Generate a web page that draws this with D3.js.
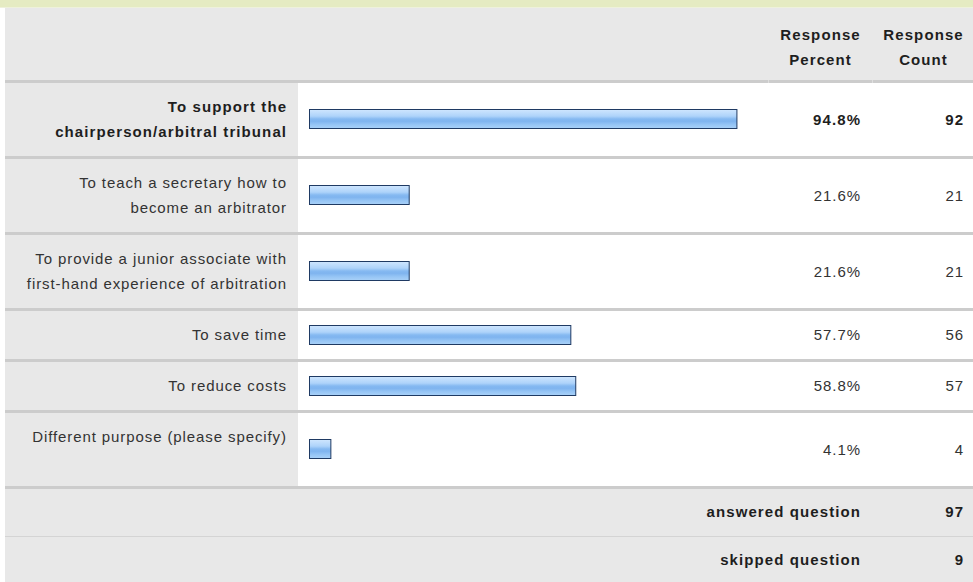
<!DOCTYPE html>
<html>
<head>
<meta charset="utf-8">
<script src="https://cdn.jsdelivr.net/npm/d3@7/dist/d3.min.js"></script>
<style>
  html, body { margin: 0; padding: 0; background: #ffffff; }
  svg { display: block; }
  text { font-family: "Liberation Sans", Arial, Helvetica, sans-serif; font-size: 15px; }
</style>
</head>
<body>
<svg id="chart" width="973" height="582"></svg>
<script>
// ---- data ----
const categories = [
  ["To support the", "chairperson/arbitral tribunal"],
  ["To teach a secretary how to", "become an arbitrator"],
  ["To provide a junior associate with", "first-hand experience of arbitration"],
  ["To save time"],
  ["To reduce costs"],
  ["Different purpose (please specify)", ""]
];
const percents = [94.8, 21.6, 21.6, 57.7, 58.8, 4.1];
const counts = [92, 21, 21, 56, 57, 4];
const highlighted = [true, false, false, false, false, false];
const headerLabels = [["Response", "Percent"], ["Response", "Count"]];
const summaryLabels = ["answered question", "skipped question"];
const summaryValues = [97, 9];

// ---- layout ----
const W = 973, H = 582;
const svg = d3.select("#chart");
const GREY = "#e8e8e8", SEP = "#cccccc", TXT = "#333333", BOLD = "#1e1e1e";
const LS = 0.9, LSB = 1.1;
const leftX = 5, labelColR = 298, labelRight = 286;
const pctRight = 860, cntRight = 963, pctCenter = 820, cntCenter = 923;
const barX = 309;
const headerTop = 8, headerBottom = 81;

// gradient
const defs = svg.append("defs");
const g = defs.append("linearGradient").attr("id", "barGrad").attr("x1", 0).attr("y1", 0).attr("x2", 0).attr("y2", 1);
[[0, "#cfe6fe"], [0.35, "#aed3fa"], [0.5, "#85b9f1"], [0.62, "#7fb4ef"], [0.8, "#96c5f5"], [1, "#a9d1f8"]]
  .forEach(([o, c]) => g.append("stop").attr("offset", o).attr("stop-color", c));

// top band
svg.append("rect").attr("x", 0).attr("y", 0).attr("width", W).attr("height", 7).attr("fill", "#e5ebc2");
svg.append("rect").attr("x", 0).attr("y", 7).attr("width", W).attr("height", 1).attr("fill", "#eef1dc");

// header row
svg.append("rect").attr("x", leftX).attr("y", headerTop).attr("width", W - leftX).attr("height", headerBottom - headerTop).attr("fill", GREY);
[pctCenter, cntCenter].forEach((cx, i) => {
  headerLabels[i].forEach((t, j) => {
    svg.append("text").attr("x", cx + LSB / 2).attr("y", 40 + j * 25)
      .attr("text-anchor", "middle").attr("font-weight", "bold")
      .attr("letter-spacing", LSB).attr("fill", BOLD).text(t);
  });
});

// rows
const rowH = categories.map(l => l.length === 2 ? 76 : 51);
const rowTop = [];
let acc = headerBottom;
rowH.forEach(h => { rowTop.push(acc); acc += h; });
const rowsBottom = acc;

const x = d3.scaleLinear().domain([0, 100]).range([0, 447.7]);

categories.forEach((lines, i) => {
  const top = rowTop[i], h = rowH[i], cy = top + h / 2;
  // label cell
  svg.append("rect").attr("x", leftX).attr("y", top).attr("width", labelColR - leftX).attr("height", h).attr("fill", GREY);
  const bold = highlighted[i];
  const ls = bold ? LSB : LS;
  const base = lines.length === 2 ? [cy - 7, cy + 18] : [cy + 5.5];
  lines.forEach((t, j) => {
    if (!t) return;
    svg.append("text").attr("x", labelRight + ls).attr("y", base[j])
      .attr("text-anchor", "end").attr("letter-spacing", ls)
      .attr("font-weight", bold ? "bold" : "normal").attr("fill", bold ? BOLD : TXT).text(t);
  });
  // bar
  svg.append("rect")
    .attr("x", barX + 0.5).attr("y", Math.round(cy - 10) + 0.5)
    .attr("width", x(percents[i]) + 3).attr("height", 19)
    .attr("fill", "url(#barGrad)").attr("stroke", "#1f3a63").attr("stroke-width", 1);
  // values
  svg.append("text").attr("x", pctRight + ls).attr("y", cy + 5.5)
    .attr("text-anchor", "end").attr("letter-spacing", ls)
    .attr("font-weight", bold ? "bold" : "normal").attr("fill", bold ? BOLD : TXT)
    .text(percents[i].toFixed(1) + "%");
  svg.append("text").attr("x", cntRight + ls).attr("y", cy + 5.5)
    .attr("text-anchor", "end").attr("letter-spacing", ls)
    .attr("font-weight", bold ? "bold" : "normal").attr("fill", bold ? BOLD : TXT)
    .text(counts[i]);
});

// summary rows
const sumH = [49, H - rowsBottom - 49];
let sTop = rowsBottom;
summaryLabels.forEach((lab, i) => {
  const h = sumH[i], cy = sTop + h / 2;
  svg.append("rect").attr("x", leftX).attr("y", sTop).attr("width", W - leftX).attr("height", h).attr("fill", GREY);
  svg.append("text").attr("x", pctRight + LSB).attr("y", cy + 5.5)
    .attr("text-anchor", "end").attr("letter-spacing", LSB).attr("font-weight", "bold").attr("fill", BOLD).text(lab);
  svg.append("text").attr("x", cntRight + LSB).attr("y", cy + 5.5)
    .attr("text-anchor", "end").attr("letter-spacing", LSB).attr("font-weight", "bold").attr("fill", BOLD).text(summaryValues[i]);
  sTop += h;
});

// separators
const seps = [headerBottom].concat(rowTop.slice(1), [rowsBottom]);
seps.forEach(yy => {
  svg.append("rect").attr("x", leftX).attr("y", yy - 1).attr("width", W - leftX).attr("height", 3).attr("fill", SEP);
});
// small gaps in header separator at column boundaries
[768, 872].forEach(xx => {
  svg.append("rect").attr("x", xx).attr("y", headerBottom - 1).attr("width", 1).attr("height", 3).attr("fill", "#dedede");
});
// thin line between summary rows
svg.append("rect").attr("x", leftX).attr("y", rowsBottom + sumH[0]).attr("width", W - leftX).attr("height", 1).attr("fill", "#d4d4d4");
</script>
</body>
</html>
